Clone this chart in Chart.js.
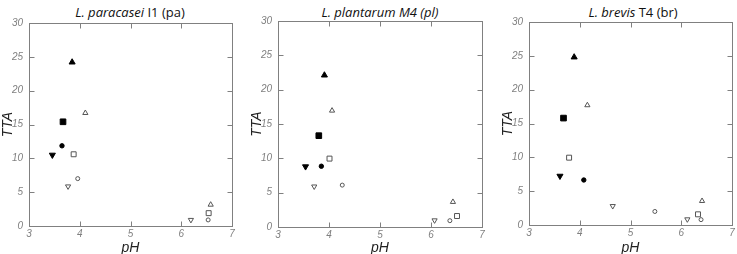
<!DOCTYPE html>
<html>
<head>
<meta charset="utf-8">
<script src="https://cdn.jsdelivr.net/npm/chart.js@4/dist/chart.umd.min.js"></script>
<style>
  body { margin: 0; background: #fff; }
  #wrap { position: relative; width: 737px; height: 254px; overflow: hidden; }
  canvas { position: absolute; top: 0; }
  .ttl { position: absolute; top: 3px; font-family: "Open Sans", sans-serif; font-size: 13px; color: #111; white-space: nowrap; transform: translateX(-50%); }
</style>
</head>
<body>
<div id="wrap">
  <div class="ttl" style="left:130px"><i>L. paracasei</i> I1 (pa)</div>
  <div class="ttl" style="left:380px"><i>L. plantarum M4 (pl)</i></div>
  <div class="ttl" style="left:633px"><i>L. brevis</i> T4 (br)</div>
  <canvas id="pa" width="237" height="254" style="left:0px"></canvas>
  <canvas id="pl" width="238" height="254" style="left:249px"></canvas>
  <canvas id="br" width="237" height="254" style="left:500px"></canvas>
</div>
<script>
// series order: open up, open square, open circle, open down, filled up, filled square, filled circle, filled down
const seriesLabels = ['open ▲', 'open ■', 'open ●', 'open ▼', '▲', '■', '●', '▼'];

const xTicks = [3, 4, 5, 6, 7];
const yTicks = [0, 5, 10, 15, 20, 25, 30];

// L. paracasei I1
const paPH  = [[4.11, 6.58], [3.88, 6.54], [3.96, 6.53], [3.77, 6.19], [3.85], [3.67], [3.65], [3.46]];
const paTTA = [[16.7, 3.15], [10.6, 1.9], [7.0, 0.9], [5.85, 0.9], [24.2], [15.4], [11.85], [10.5]];

// L. plantarum M4
const plPH  = [[4.06, 6.43], [4.01, 6.51], [4.26, 6.37], [3.71, 6.07], [3.91], [3.80], [3.85], [3.54]];
const plTTA = [[16.95, 3.65], [9.96, 1.6], [6.1, 0.92], [5.9, 0.97], [22.1], [13.3], [8.85], [8.8]];

// L. brevis T4
const brPH  = [[4.15, 6.41], [3.79, 6.33], [5.48, 6.39], [4.65, 6.12], [3.89], [3.68], [4.08], [3.61]];
const brTTA = [[17.7, 3.55], [9.95, 1.58], [2.0, 0.79], [2.8, 0.84], [24.8], [15.8], [6.65], [7.24]];

const markerStyle = [
  { pointStyle: 'triangle', rotation: 0,   radius: 3,   fill: false },
  { pointStyle: 'rect',     rotation: 0,   radius: 3.5, fill: false },
  { pointStyle: 'circle',   rotation: 0,   radius: 2,   fill: false },
  { pointStyle: 'triangle', rotation: 180, radius: 3,   fill: false },
  { pointStyle: 'triangle', rotation: 0,   radius: 3.5, fill: true },
  { pointStyle: 'rect',     rotation: 0,   radius: 4,   fill: true },
  { pointStyle: 'circle',   rotation: 0,   radius: 2.2, fill: true },
  { pointStyle: 'triangle', rotation: 180, radius: 3.5, fill: true }
];

// frame with inward ticks on all four sides
const framePlugin = {
  id: 'frame',
  afterDraw(chart) {
    const { ctx, chartArea: a, scales } = chart;
    const L = Math.round(a.left) + 0.5, R = Math.round(a.right) + 0.5;
    const T = Math.round(a.top) + 0.5, B = Math.round(a.bottom) + 0.5;
    ctx.save();
    ctx.strokeStyle = '#808080';
    ctx.lineWidth = 1;
    ctx.strokeRect(L, T, R - L, B - T);
    ctx.beginPath();
    scales.x.ticks.forEach(t => {
      const px = Math.round(scales.x.getPixelForValue(t.value)) + 0.5;
      ctx.moveTo(px, B); ctx.lineTo(px, B - 5);
      ctx.moveTo(px, T); ctx.lineTo(px, T + 5);
    });
    scales.y.ticks.forEach(t => {
      const py = Math.round(scales.y.getPixelForValue(t.value)) + 0.5;
      ctx.moveTo(L, py); ctx.lineTo(L + 5, py);
      ctx.moveTo(R, py); ctx.lineTo(R - 5, py);
    });
    ctx.stroke();
    ctx.restore();
  }
};

function makeChart(id, phs, ttas, box) {
  const datasets = phs.map((xs, i) => {
    const m = markerStyle[i];
    return {
      label: seriesLabels[i],
      data: xs.map((x, j) => ({ x: x, y: ttas[i][j] })),
      pointStyle: m.pointStyle,
      rotation: m.rotation,
      pointRadius: m.radius,
      pointHoverRadius: m.radius,
      backgroundColor: m.fill ? '#000' : '#fff',
      borderColor: m.fill ? '#000' : '#555',
      borderWidth: 1
    };
  });
  const tickFont = { family: 'Liberation Sans', size: 10, style: 'italic' };
  return new Chart(document.getElementById(id), {
    type: 'scatter',
    data: { datasets: datasets },
    options: {
      responsive: false,
      animation: false,
      layout: { padding: { left: 0, right: box.right, top: box.top, bottom: 0 } },
      plugins: { legend: { display: false }, tooltip: { enabled: false } },
      scales: {
        x: {
          min: 3, max: 7,
          afterBuildTicks: s => { s.ticks = xTicks.map(v => ({ value: v })); },
          afterFit: s => { s.height = box.xh; },
          grid: { display: false, drawTicks: false },
          border: { display: false },
          ticks: { color: '#808080', font: tickFont, padding: 2 },
          title: { display: true, text: 'pH', color: '#222', padding: 0,
                   font: { family: 'Liberation Sans', size: 14, style: 'italic', lineHeight: '12px' } }
        },
        y: {
          min: 0, max: 30,
          afterBuildTicks: s => { s.ticks = yTicks.map(v => ({ value: v })); },
          afterFit: s => { s.width = 29; },
          grid: { display: false, drawTicks: false },
          border: { display: false },
          ticks: { color: '#808080', font: tickFont, padding: 6 },
          title: { display: true, text: 'TTA', color: '#222', padding: 0,
                   font: { family: 'Liberation Sans', size: 14, style: 'italic', lineHeight: '16px' } }
        }
      }
    },
    plugins: [framePlugin]
  });
}

makeChart('pa', paPH, paTTA, { right: 5, top: 23, xh: 28 });
makeChart('pl', plPH, plTTA, { right: 5, top: 21, xh: 27 });
makeChart('br', brPH, brTTA, { right: 3, top: 22, xh: 29 });
</script>
</body>
</html>
